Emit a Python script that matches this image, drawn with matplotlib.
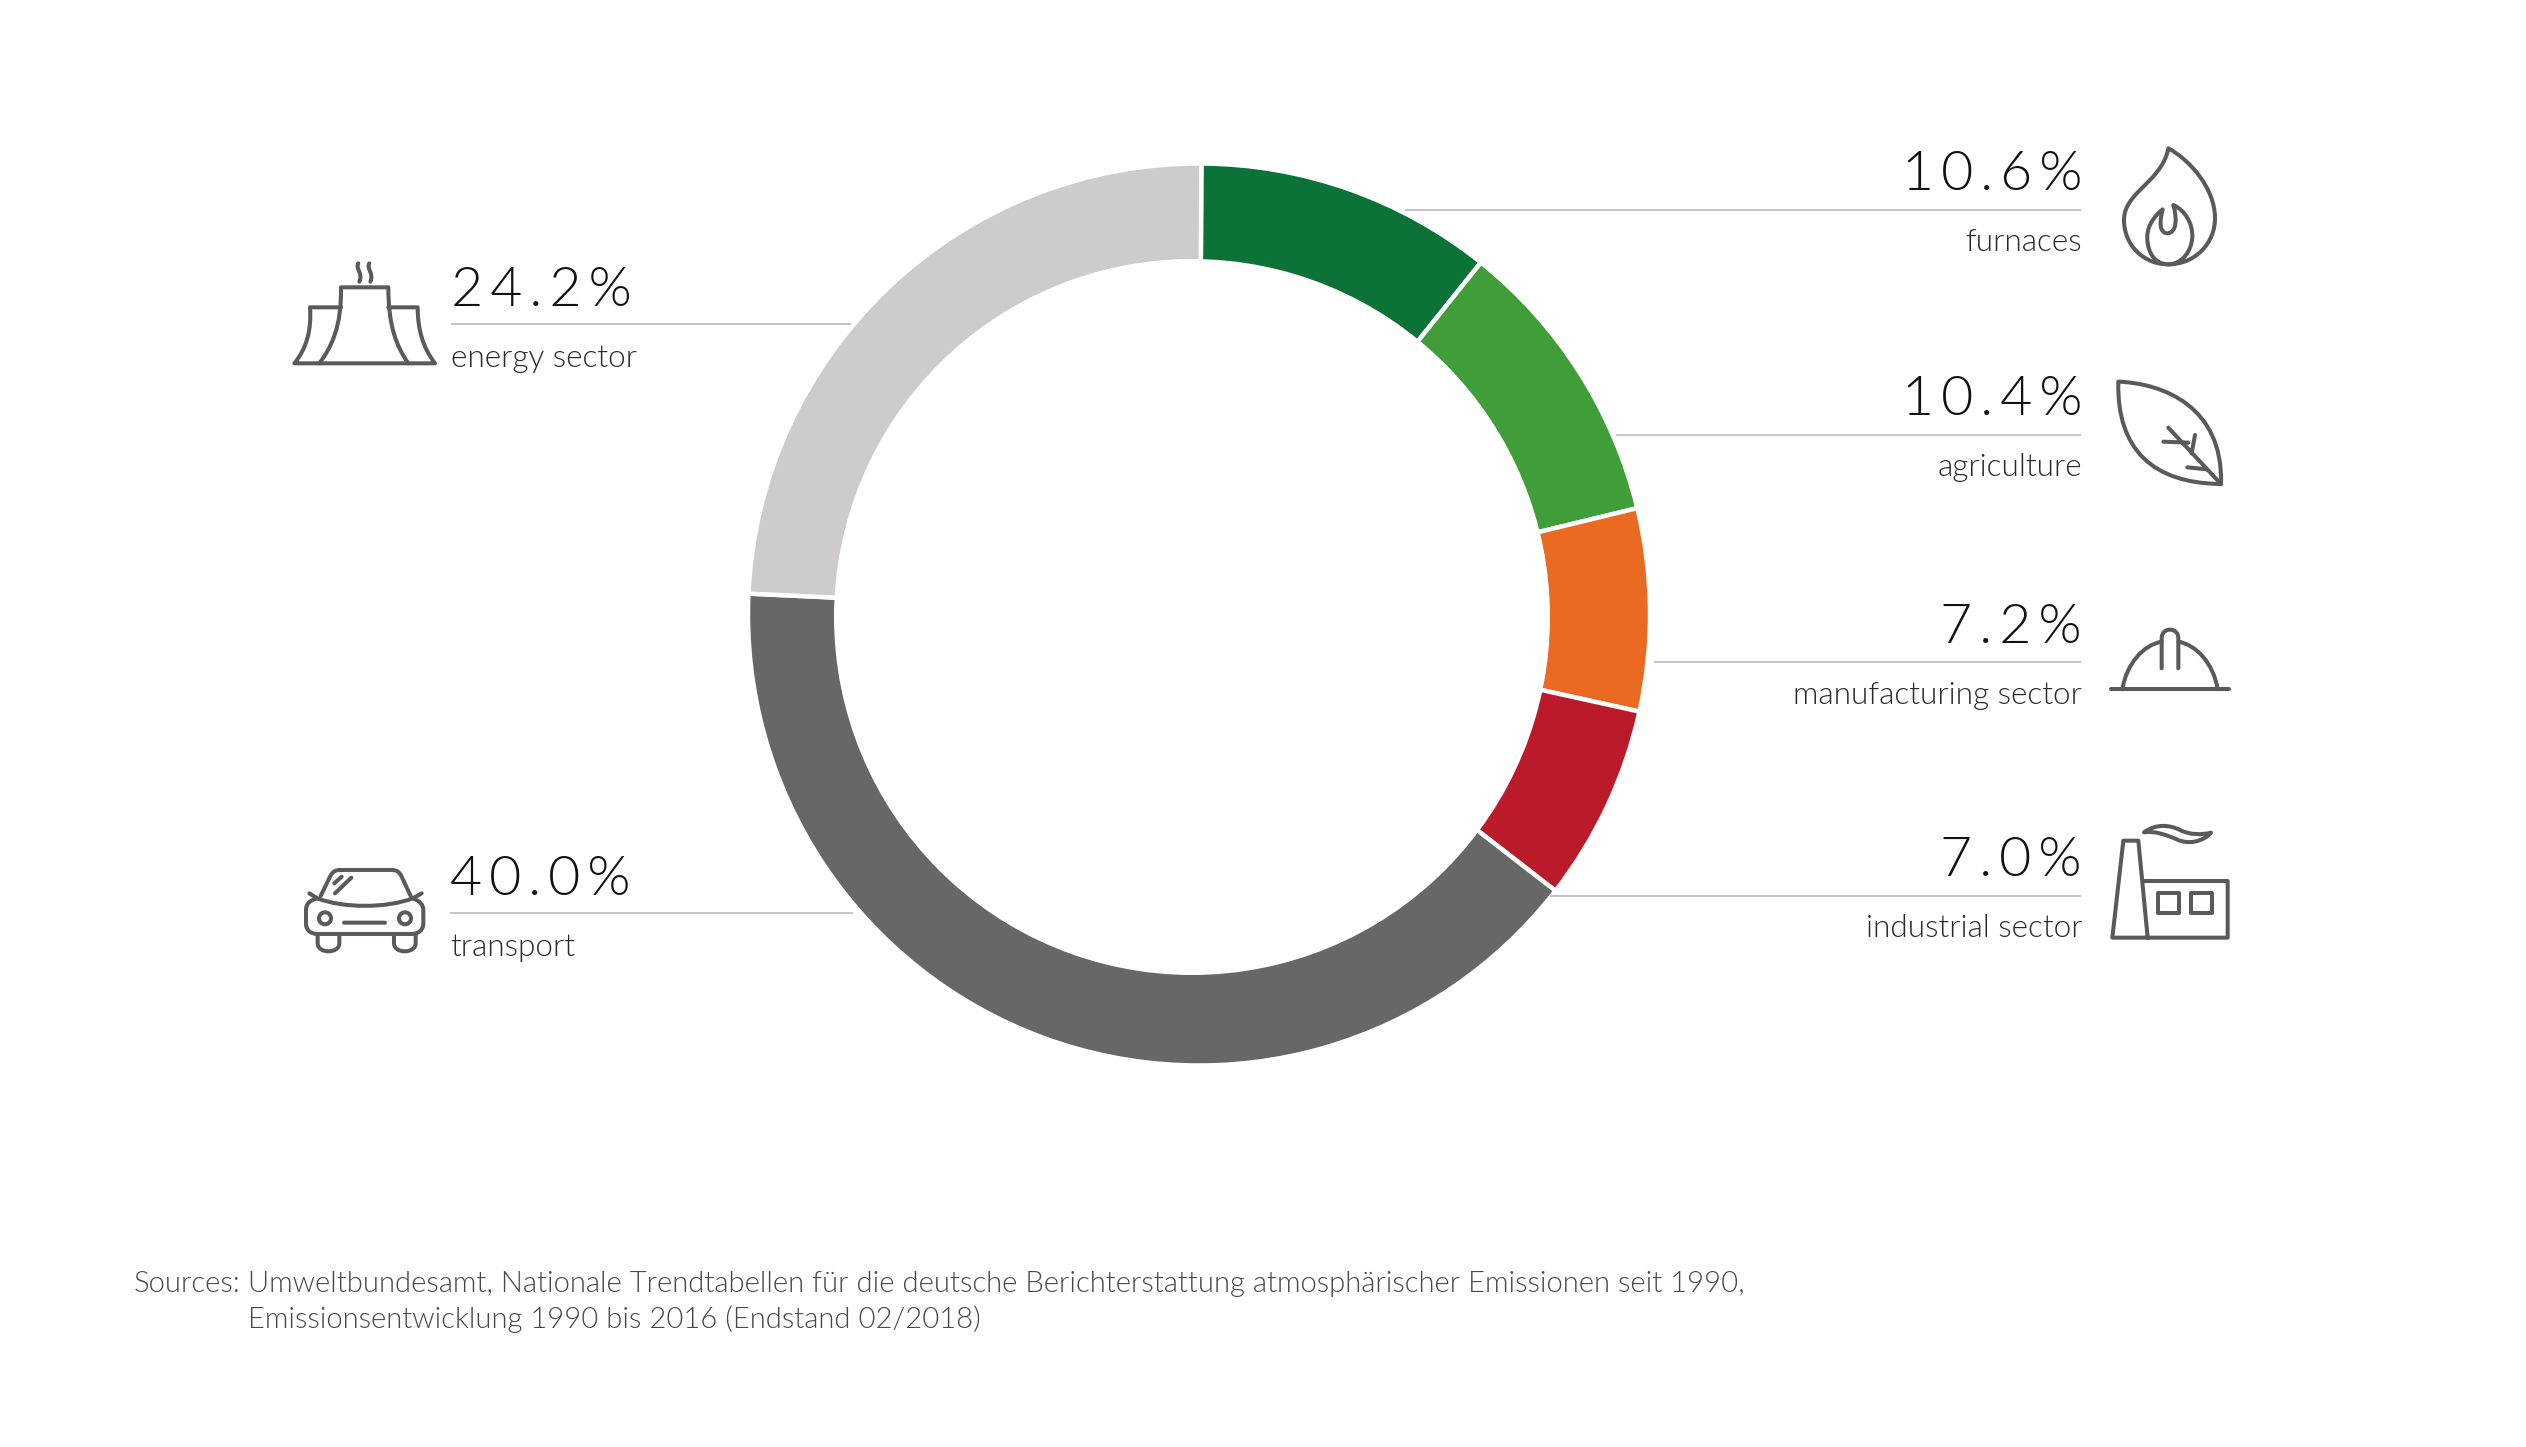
import re
import matplotlib
matplotlib.use("Agg")
import matplotlib.pyplot as plt
from matplotlib.path import Path
from matplotlib.patches import PathPatch, Circle

W, H = 2526, 1447
categories = ["furnaces", "agriculture", "manufacturing sector", "industrial sector", "transport", "energy sector"]
values = [10.6, 10.4, 7.2, 7.0, 40.0, 24.2]
colors = ["#0b7337", "#3f9e37", "#ea6a22", "#bb1a2a", "#666766", "#cdcccb"]
pct_labels = ["10.6%", "10.4%", "7.2%", "7.0%", "40.0%", "24.2%"]

FONT = ["Lato", "DejaVu Sans"]
ICON = "#5a5a5a"

fig = plt.figure(figsize=(W / 100, H / 100), dpi=100, facecolor="white")
ax = fig.add_axes([0, 0, 1, 1])
Y = lambda y: H - y

ax.pie(values, startangle=89.7, counterclock=False, colors=colors, center=(1199, Y(614.5)), radius=451,
       frame=True, wedgeprops=dict(edgecolor="white", linewidth=3.2))
ax.add_patch(Circle((1192, Y(617)), 358, facecolor="white", edgecolor="none", zorder=5))
ax.set_xlim(0, W)
ax.set_ylim(0, H)
ax.set_aspect("equal")
ax.axis("off")


def spaced(s):
    return "\u200a\u200a".join(s)


# x of text, x range of leader, baselines: number, leader, label
layout = {
    "furnaces": (2082, "right", 1405, 2081, 190, 210, 251),
    "agriculture": (2082, "right", 1616, 2081, 415, 435, 476),
    "manufacturing sector": (2082, "right", 1654, 2081, 643, 662, 704),
    "industrial sector": (2082, "right", 1550, 2081, 876, 896, 937),
    "transport": (450, "left", 450, 853, 895, 913, 956),
    "energy sector": (451, "left", 451, 851, 306, 324, 367),
}
for cat, pct in zip(categories, pct_labels):
    x, ha, x0, x1, yn, yl, yt = layout[cat]
    ax.plot([x0, x1], [Y(yl)] * 2, color="#b4b4b4", lw=1.1, solid_capstyle="butt", zorder=6)
    ax.text(x, Y(yn), spaced(pct), ha=ha, va="baseline", fontsize=40, color="#111111",
            family=FONT, fontweight=300)
    ax.text(x, Y(yt), cat, ha=ha, va="baseline", fontsize=22.7, color="#2a2a2a",
            family=FONT, fontweight=300)

ax.text(134, Y(1292), "Sources:", fontsize=21.1, color="#484848", family=FONT, fontweight=300, va="baseline")
ax.text(248, Y(1292), "Umweltbundesamt, Nationale Trendtabellen für die deutsche Berichterstattung atmosphärischer Emissionen seit 1990,",
        fontsize=21.1, color="#484848", family=FONT, fontweight=300, va="baseline")
ax.text(248, Y(1328), "Emissionsentwicklung 1990 bis 2016 (Endstand 02/2018)",
        fontsize=21.1, color="#484848", family=FONT, fontweight=300, va="baseline")


def icon(ox, oy, d, fill="none"):
    verts, codes = [], []
    toks = re.findall(r"[MLCZ]|-?\d+\.?\d*", d)
    i = 0
    pt = lambda a, b: (ox + float(a) / 3, Y(oy + float(b) / 3))
    while i < len(toks):
        c = toks[i]
        i += 1
        if c == "Z":
            verts.append((0, 0)); codes.append(Path.CLOSEPOLY)
            continue
        n = 3 if c == "C" else 1
        while i < len(toks) and toks[i] not in "MLCZ":
            for k in range(n):
                verts.append(pt(toks[i], toks[i + 1])); i += 2
                codes.append({"M": Path.MOVETO, "L": Path.LINETO, "C": Path.CURVE4}[c])
    ax.add_patch(PathPatch(Path(verts, codes), facecolor=fill, edgecolor=ICON, lw=2.9,
                           capstyle="round", joinstyle="round", zorder=7))


# power plant
icon(260, 230, "M 178 400 C 215 350 245 290 243 172 L 385 172 C 385 290 410 350 445 400")
icon(260, 230, "M 243 232 L 150 232 C 155 300 140 355 103 400 L 525 400 C 490 355 473 300 473 232 L 385 232")
icon(260, 230, "M 295 100 C 285 115 310 130 298 155 M 328 100 C 318 115 343 130 331 155")
# car
icon(280, 830, "M 122 198 L 150 140 C 158 125 165 120 180 120 L 335 120 C 350 120 358 125 365 140 L 392 198")
icon(280, 830, "M 88 190 L 112 205 C 190 235 320 235 398 205 L 425 190")
icon(280, 830, "M 112 205 C 85 212 78 225 78 240 L 78 280 C 78 300 90 312 115 312 L 395 312 C 415 312 430 300 430 280 L 430 240 C 430 225 420 212 398 205")
icon(280, 830, "M 113 315 L 113 340 C 113 372 178 372 178 340 L 178 315 M 342 315 L 342 340 C 342 372 407 372 407 340 L 407 315")
icon(280, 830, "M 192 278 L 315 278 M 163 160 L 185 140 M 165 190 L 214 143")
for cx in (135, 375):
    ax.add_patch(Circle((280 + cx / 3, Y(830 + 265 / 3)), 6, facecolor="none", edgecolor=ICON, lw=2.9, zorder=7))
# flame
icon(1880, 130, "M 865 55 C 855 110 815 145 780 180 C 745 215 732 240 732 270 C 732 345 790 403 865 403 C 945 403 1005 340 1005 265 C 1005 175 930 90 865 55 Z")
icon(1880, 130, "M 848 238 C 810 270 800 300 802 330 C 805 370 825 403 865 403 C 905 403 935 365 937 320 C 938 280 915 240 880 225 C 890 260 893 308 862 310 C 835 308 840 270 848 238 Z")
# leaf
icon(1880, 130, "M 715 755 C 850 760 1030 830 1023 1062 C 820 1060 710 960 715 755 Z")
icon(1880, 130, "M 1023 1062 L 865 893 M 850 935 L 925 938 M 945 915 L 935 970 M 922 1012 L 980 1018")
# helmet
icon(1780, 590, "M 992 298 L 1347 298")
icon(1780, 590, "M 1027 298 C 1040 220 1090 165 1145 155 M 1195 155 C 1250 165 1300 220 1313 298")
icon(1780, 590, "M 1145 235 L 1145 145 C 1145 110 1195 110 1195 145 L 1195 235")
# factory
icon(1780, 590, "M 1103 1043 L 1075 752 L 1030 752 L 997 1043 L 1343 1043 L 1343 873 L 1090 873")
icon(1780, 590, "M 1135 908 L 1198 908 L 1198 968 L 1135 968 Z M 1232 908 L 1297 908 L 1297 968 L 1232 968 Z")
icon(1780, 590, "M 1092 727 C 1130 700 1170 705 1200 720 C 1230 735 1265 735 1293 728 C 1270 755 1225 765 1190 748 C 1160 735 1125 722 1092 727 Z")

fig.savefig("out.png", dpi=100, facecolor="white")
